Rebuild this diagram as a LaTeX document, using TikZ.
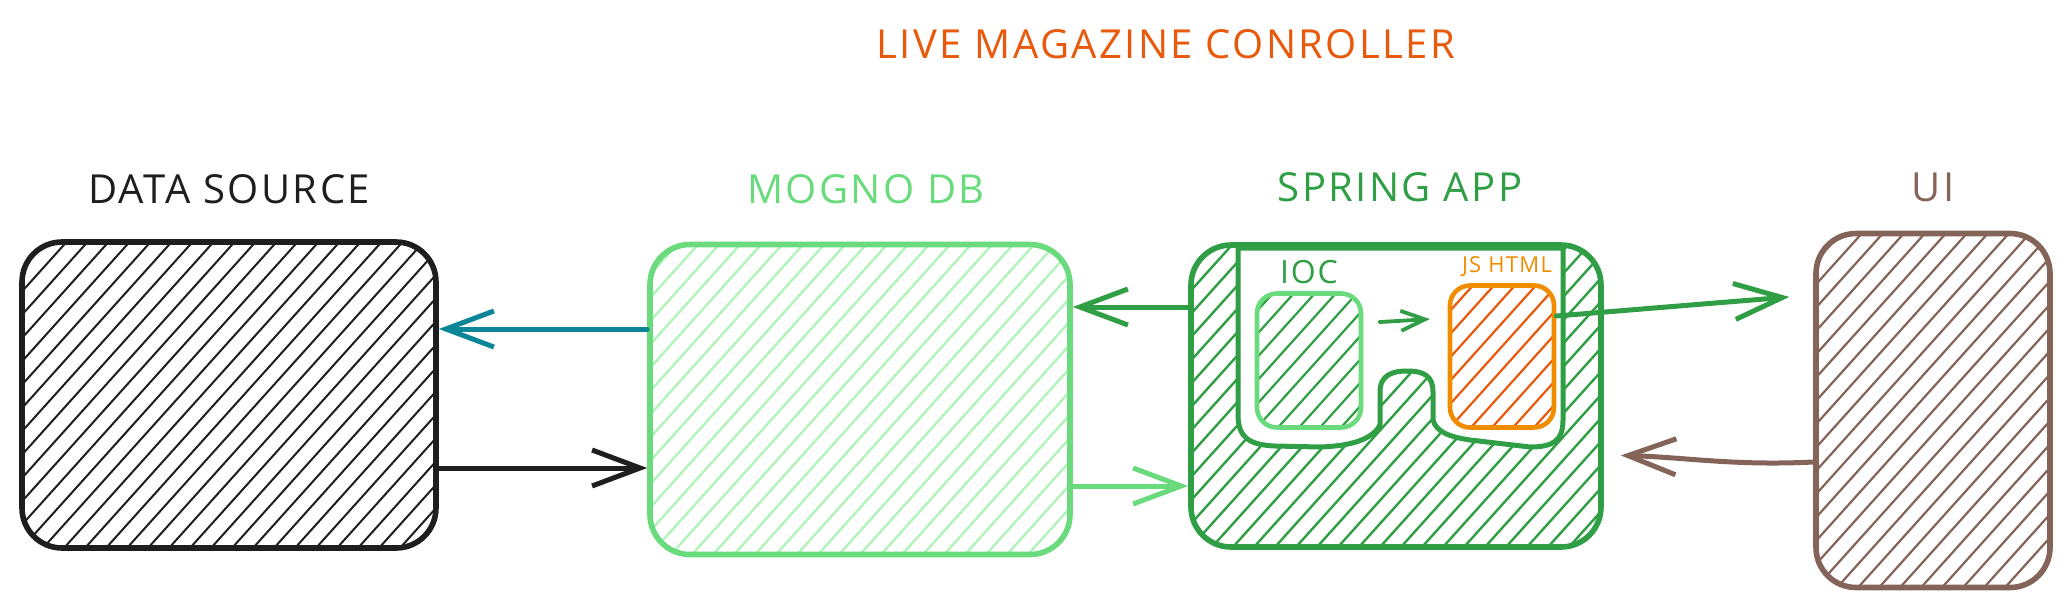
\documentclass[tikz,border=0pt]{standalone}
\usepackage{fontspec}
\setmainfont[LetterSpace=6]{Open Sans}
\usetikzlibrary{arrows.meta}
\definecolor{cblack}{HTML}{1E1E1E}
\definecolor{cteal}{HTML}{0C8599}
\definecolor{cgreenl}{HTML}{69DB7C}
\definecolor{cgreenll}{HTML}{B2F2BB}
\definecolor{cgreen}{HTML}{2F9E44}
\definecolor{corange}{HTML}{F08C00}
\definecolor{cred}{HTML}{E8590C}
\definecolor{cbrown}{HTML}{846358}
\tikzset{
  hatch/.style n args={3}{path picture={
    \foreach \k in {-20,...,24}
      \draw[#1, line width=#3] ([xshift=\k*#2]path picture bounding box.south west) -- ++(48:600pt);
  }},
  box/.style={draw, rounded corners=20pt, line width=2.8pt, inner sep=0pt},
  smallbox/.style={draw, rounded corners=10pt, line width=2.3pt, inner sep=0pt},
  lbl/.style={font=\fontsize{20}{24}\selectfont, inner sep=0pt},
  arr/.style={line width=2.5pt, line cap=round, -{Straight Barb[length=24pt,width=18pt]}},
  arrsmall/.style={line width=1.9pt, line cap=round, -{Straight Barb[length=12pt,width=10pt]}},
}
\begin{document}
\begin{tikzpicture}[x=0.5pt,y=-0.5pt]
\useasboundingbox (0,0) rectangle (2072,611);

% title and labels
\node[lbl, text=cred] (title) at (1166,44) {LIVE MAGAZINE CONROLLER};
\node[lbl, text=cblack] (dslbl) at (229,189) {DATA SOURCE};
\node[lbl, text=cgreenl] (mongolbl) at (866,189) {MOGNO DB};
\node[lbl, text=cgreen] (springlbl) at (1400,187) {SPRING APP};
\node[lbl, text=cbrown] (uilbl) at (1933,187) {UI};

% main boxes
\node[box, draw=cblack, minimum width=207pt, minimum height=153pt, hatch={cblack}{10.5pt}{1pt}] (ds) at (229,395) {};
\node[box, draw=cgreenl, minimum width=210pt, minimum height=155pt, hatch={cgreenll}{10.5pt}{1.2pt}] (mongo) at (860,399.5) {};
\node[box, draw=cgreen, minimum width=205pt, minimum height=151pt, hatch={cgreen}{10.5pt}{1.2pt}] (spring) at (1396,396) {};
\node[box, draw=cbrown, minimum width=117pt, minimum height=177pt, hatch={cbrown}{10.5pt}{1.1pt}] (ui) at (1933,410.5) {};

% white U-shaped inner area of the spring app
\draw[fill=white, draw=cgreen, line width=2.5pt, line join=round]
  (1238,248) -- (1238,415) .. controls (1238,438) and (1250,445) .. (1275,446)
  -- (1320,447) .. controls (1350,446) and (1372,440) .. (1380,425)
  -- (1380,392) .. controls (1380,374) and (1394,371) .. (1407,371)
  .. controls (1424,371) and (1433,376) .. (1433,392)
  -- (1433,420) .. controls (1436,432) and (1450,437) .. (1470,440)
  -- (1530,447) .. controls (1554,447) and (1563,440) .. (1563,420)
  -- (1563,248) -- cycle;

% inner boxes
\node[smallbox, draw=cgreenl, minimum width=52pt, minimum height=67pt, hatch={cgreen}{10.5pt}{1.1pt}] (ioc) at (1309,360.5) {};
\node[smallbox, draw=corange, minimum width=52pt, minimum height=71pt, hatch={cred}{10.5pt}{1.1pt}] (js) at (1502,356.5) {};
\node[inner sep=0pt, text=cgreen, font=\fontsize{16}{19}\selectfont] (ioclbl) at (1309,272) {IOC};
\node[inner sep=0pt, text=corange, font=\fontsize{11}{13}\selectfont] (jslbl) at (1507,267) {JS HTML};

% connectors
\draw[arr, cteal] ([yshift=35.25pt]mongo.west) -- ([yshift=33pt]ds.east);
\draw[arr, cblack] ([yshift=-36.5pt]ds.east) -- ([yshift=-34.25pt]mongo.west);
\draw[arr, cgreen] ([yshift=44.5pt]spring.west) -- ([yshift=46.25pt]mongo.east);
\draw[arr, cgreenl] ([yshift=-43.25pt]mongo.east) -- ([yshift=-45pt]spring.west);
\draw[arrsmall, cgreen, shorten <=8pt, shorten >=9pt] ([yshift=18.75pt]ioc.east) -- ([yshift=19.25pt]js.west);
\draw[arr, cgreen, shorten >=12pt] ([yshift=20.25pt]js.east) -- ([yshift=57.75pt]ui.west);
\draw[arr, cbrown, shorten >=8.5pt] ([yshift=-25.75pt]ui.west) .. controls +(-40pt,-2pt) and +(40pt,-1pt) .. ([yshift=-29.5pt]spring.east);
\end{tikzpicture}
\end{document}
